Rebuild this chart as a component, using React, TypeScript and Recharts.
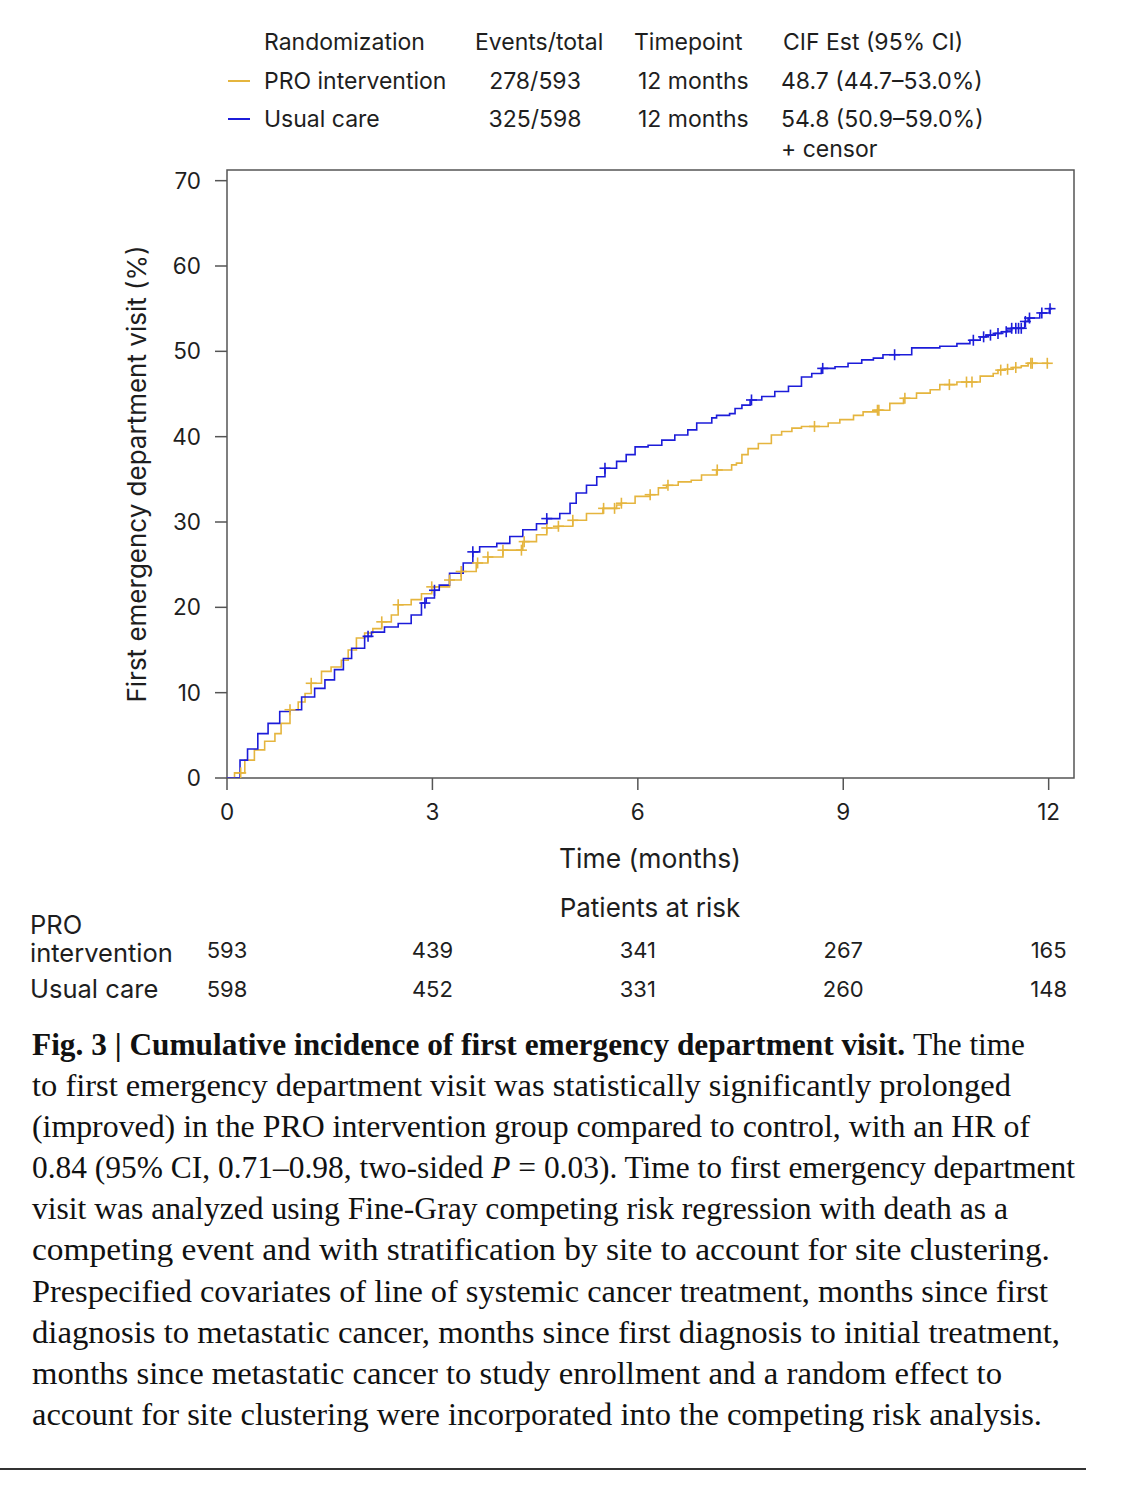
import React from "react";
import { ComposedChart, Line, Scatter, XAxis, YAxis, ReferenceArea } from "recharts";

const xTicks = [0, 3, 6, 9, 12];
const yTicks = [0, 10, 20, 30, 40, 50, 60, 70];
const X_MAX = 12.37;
const Y_MAX = 71.25;

// PRO intervention cumulative incidence (months, %)
const proTimes = [0, 0.11, 0.26, 0.40, 0.55, 0.70, 0.79, 0.92, 1.04, 1.14, 1.23, 1.38, 1.52, 1.67, 1.77, 1.89, 2.01, 2.13, 2.26, 2.40, 2.50, 2.69, 2.84, 2.99, 3.25, 3.42, 3.64, 3.81, 4.03, 4.32, 4.52, 4.67, 4.84, 5.05, 5.25, 5.49, 5.69, 5.76, 5.96, 6.18, 6.30, 6.42, 6.59, 6.78, 6.93, 7.15, 7.37, 7.44, 7.52, 7.61, 7.76, 7.95, 8.10, 8.25, 8.39, 8.78, 8.95, 9.15, 9.29, 9.49, 9.68, 9.88, 10.07, 10.27, 10.41, 10.66, 11.00, 11.19, 11.26, 11.36, 11.48, 11.60, 11.70, 12.00];
const proCif = [0, 0.6, 2.1, 3.3, 4.3, 5.2, 6.4, 8.0, 8.9, 9.9, 11.1, 12.5, 13.0, 13.8, 15.0, 16.4, 17.0, 17.5, 18.3, 19.1, 20.3, 20.9, 21.6, 22.4, 23.2, 24.2, 25.2, 25.9, 26.7, 27.7, 28.5, 29.3, 29.5, 30.2, 31.0, 31.6, 32.0, 32.2, 33.0, 33.2, 34.0, 34.3, 34.7, 34.9, 35.5, 36.1, 36.7, 36.9, 37.9, 38.6, 39.2, 40.2, 40.6, 41.0, 41.2, 41.6, 42.0, 42.5, 42.9, 43.1, 43.9, 44.5, 45.1, 45.5, 46.1, 46.4, 47.1, 47.4, 47.8, 47.9, 48.1, 48.3, 48.6, 48.6];
const proCensor = [0.2, 0.92, 1.23, 2.26, 2.50, 2.99, 3.25, 3.42, 3.66, 3.81, 4.03, 4.30, 4.34, 4.67, 4.84, 5.05, 5.50, 5.66, 5.76, 6.18, 6.44, 7.16, 8.58, 9.50, 9.52, 9.90, 10.55, 10.80, 10.88, 11.30, 11.40, 11.52, 11.74, 11.76, 11.98];

// Usual care cumulative incidence (months, %)
const usualTimes = [0, 0.19, 0.30, 0.45, 0.60, 0.77, 0.92, 1.09, 1.28, 1.43, 1.57, 1.70, 1.82, 2.01, 2.11, 2.30, 2.50, 2.69, 2.84, 2.91, 3.03, 3.10, 3.25, 3.45, 3.59, 3.69, 3.94, 4.13, 4.32, 4.52, 4.67, 4.86, 5.01, 5.10, 5.25, 5.40, 5.52, 5.69, 5.83, 5.96, 6.15, 6.35, 6.54, 6.73, 6.86, 7.08, 7.15, 7.34, 7.42, 7.52, 7.64, 7.81, 8.00, 8.20, 8.39, 8.54, 8.68, 8.88, 9.07, 9.27, 9.44, 9.58, 10.00, 10.41, 10.66, 10.85, 11.00, 11.09, 11.22, 11.31, 11.39, 11.46, 11.65, 11.70, 11.87, 12.01, 12.05];
const usualCif = [0, 2.1, 3.4, 5.2, 6.4, 7.8, 8.0, 9.5, 10.5, 11.5, 12.7, 14.0, 15.2, 16.6, 17.1, 17.7, 18.1, 19.1, 20.5, 21.1, 22.0, 22.6, 24.0, 25.2, 26.5, 27.1, 27.5, 28.3, 29.1, 29.8, 30.4, 31.0, 32.2, 33.4, 34.3, 35.3, 36.3, 37.1, 37.9, 38.8, 39.0, 39.6, 40.2, 40.8, 41.6, 42.2, 42.5, 42.7, 43.3, 43.7, 44.3, 44.7, 45.3, 45.9, 47.0, 47.4, 48.0, 48.2, 48.6, 49.0, 49.2, 49.6, 50.4, 50.6, 50.9, 51.3, 51.7, 51.9, 52.1, 52.3, 52.5, 52.7, 53.5, 53.9, 54.5, 55.0, 55.0];
const usualCensor = [2.06, 2.89, 3.03, 3.59, 4.67, 5.52, 7.66, 8.70, 9.75, 10.90, 11.05, 11.15, 11.26, 11.38, 11.46, 11.52, 11.56, 11.60, 11.66, 11.72, 11.90, 12.02];

// patients at risk
const riskTimes = [0, 3, 6, 9, 12];
const proAtRisk = [593, 439, 341, 267, 165];
const usualAtRisk = [598, 452, 331, 260, 148];

const legendRows = [
  { name: "PRO intervention", events: "278/593", time: "12 months", cif: "48.7 (44.7–53.0%)" },
  { name: "Usual care", events: "325/598", time: "12 months", cif: "54.8 (50.9–59.0%)" },
];

const captionLines = [
  "to first emergency department visit was statistically significantly prolonged",
  "(improved) in the PRO intervention group compared to control, with an HR of",
  "0.84 (95% CI, 0.71–0.98, two-sided |P| = 0.03). Time to first emergency department",
  "visit was analyzed using Fine-Gray competing risk regression with death as a",
  "competing event and with stratification by site to account for site clustering.",
  "Prespecified covariates of line of systemic cancer treatment, months since first",
  "diagnosis to metastatic cancer, months since first diagnosis to initial treatment,",
  "months since metastatic cancer to study enrollment and a random effect to",
  "account for site clustering were incorporated into the competing risk analysis.",
];
const captionEnds = [1011, 1030, 1075, 1008, 1050, 1048, 1060, 1002, 1042];

const PRO_COLOR = "#E5B53E";
const USUAL_COLOR = "#1C1CD9";
const TEXT = "#1e1e1e";
const SANS = "Inter, 'Noto Sans', sans-serif";

const PLOT_LEFT = 227;
const PLOT_RIGHT = 1074;
const PLOT_TOP = 170;
const PLOT_BOTTOM = 778;
const CHART_H = 1000;

const toSeries = (times: number[], vals: number[]) => times.map((t, i) => ({ t, v: vals[i] }));

const stepValue = (times: number[], vals: number[], t: number) => {
  let v = vals[0];
  for (let i = 0; i < times.length; i++) {
    if (times[i] <= t) v = vals[i];
  }
  return v;
};

const censorPoints = (censor: number[], times: number[], vals: number[]) =>
  censor.map((t) => ({ t, v: stepValue(times, vals, t) }));

const proData = toSeries(proTimes, proCif);
const usualData = toSeries(usualTimes, usualCif);
const proCensorData = censorPoints(proCensor, proTimes, proCif);
const usualCensorData = censorPoints(usualCensor, usualTimes, usualCif);

const xPx = (t: number) => PLOT_LEFT + (t / X_MAX) * (PLOT_RIGHT - PLOT_LEFT);

const cross = (color: string) => (props: any) => {
  const { cx, cy } = props;
  if (cx == null || cy == null) return <g />;
  return (
    <g>
      <line x1={cx - 5.5} x2={cx + 5.5} y1={cy} y2={cy} stroke={color} strokeWidth={1.6} />
      <line x1={cx} x2={cx} y1={cy - 5.5} y2={cy + 5.5} stroke={color} strokeWidth={1.6} />
    </g>
  );
};

const Txt = ({ x, y, children, size = 23, anchor = "left" }: any) => (
  <div
    style={{
      position: "absolute",
      left: x,
      top: y,
      transform: anchor === "center" ? "translate(-50%, -50%)" : "translateY(-50%)",
      fontSize: size,
      lineHeight: 1,
      whiteSpace: "nowrap",
      color: TEXT,
      fontFamily: SANS,
    }}
  >
    {children}
  </div>
);

export default function App() {
  const tickStyle = { fontSize: 22.5, fill: TEXT, fontFamily: SANS };
  return (
    <div style={{ position: "absolute", left: 0, top: 0, width: 1124, height: 1485, background: "#fff", overflow: "hidden" }}>
      {/* legend table */}
      <Txt x={264} y={42}>Randomization</Txt>
      <Txt x={475} y={42}>Events/total</Txt>
      <Txt x={634} y={42}>Timepoint</Txt>
      <Txt x={783} y={42}>CIF Est (95% CI)</Txt>
      {legendRows.map((r, i) => {
        const y = 81 + i * 38;
        return (
          <React.Fragment key={r.name}>
            <div style={{ position: "absolute", left: 228, top: y - 1, width: 22, height: 2, background: i === 0 ? PRO_COLOR : USUAL_COLOR }} />
            <Txt x={264} y={y}>{r.name}</Txt>
            <Txt x={535} y={y} anchor="center">{r.events}</Txt>
            <Txt x={638} y={y}>{r.time}</Txt>
            <Txt x={781} y={y}>{r.cif}</Txt>
          </React.Fragment>
        );
      })}
      <Txt x={781} y={149}>+ censor</Txt>

      <div style={{ position: "absolute", left: 0, top: 0 }}>
        <ComposedChart
          width={1124}
          height={CHART_H}
          margin={{ top: PLOT_TOP, right: 1124 - PLOT_RIGHT, bottom: CHART_H - PLOT_BOTTOM - 60, left: PLOT_LEFT - 100 }}
        >
          <XAxis
            type="number"
            dataKey="t"
            domain={[0, X_MAX]}
            ticks={xTicks}
            allowDataOverflow
            axisLine={false}
            tickLine={{ stroke: "#555", strokeWidth: 1.5 }}
            tickSize={12}
            tickMargin={14}
            tick={tickStyle}
            height={60}
            interval={0}
          />
          <YAxis
            type="number"
            dataKey="v"
            domain={[0, Y_MAX]}
            ticks={yTicks}
            allowDataOverflow
            axisLine={false}
            tickLine={{ stroke: "#555", strokeWidth: 1.5 }}
            tickSize={12}
            tickMargin={14}
            tick={tickStyle}
            width={100}
            interval={0}
          />
          <ReferenceArea x1={0} x2={X_MAX} y1={0} y2={Y_MAX} fill="none" fillOpacity={0} stroke="#555" strokeWidth={1.5} />
          <Line
            data={proData}
            dataKey="v"
            type="stepAfter"
            stroke={PRO_COLOR}
            strokeWidth={1.6}
            dot={false}
            isAnimationActive={false}
          />
          <Line
            data={usualData}
            dataKey="v"
            type="stepAfter"
            stroke={USUAL_COLOR}
            strokeWidth={1.6}
            dot={false}
            isAnimationActive={false}
          />
          <Scatter data={proCensorData} dataKey="v" shape={cross(PRO_COLOR)} isAnimationActive={false} />
          <Scatter data={usualCensorData} dataKey="v" shape={cross(USUAL_COLOR)} isAnimationActive={false} />
        </ComposedChart>
      </div>

      {/* y axis title */}
      <div
        style={{
          position: "absolute",
          left: 137,
          top: 474,
          transform: "translate(-50%, -50%) rotate(-90deg)",
          fontSize: 26,
          whiteSpace: "nowrap",
          color: TEXT,
          fontFamily: SANS,
          lineHeight: 1,
        }}
      >
        First emergency department visit (%)
      </div>

      <Txt x={650} y={858} size={26.5} anchor="center">Time (months)</Txt>
      <Txt x={650} y={908} size={26} anchor="center">Patients at risk</Txt>

      {/* risk table */}
      <Txt x={30} y={925} size={25.5}>PRO</Txt>
      <Txt x={30} y={953} size={25.5}>intervention</Txt>
      <Txt x={30} y={989} size={25.5}>Usual care</Txt>
      {riskTimes.map((t, i) => (
        <React.Fragment key={t}>
          <Txt x={xPx(t)} y={950} size={22} anchor="center">{proAtRisk[i]}</Txt>
          <Txt x={xPx(t)} y={989} size={22} anchor="center">{usualAtRisk[i]}</Txt>
        </React.Fragment>
      ))}

      {/* caption */}
      <svg width={1124} height={485} style={{ position: "absolute", left: 0, top: 1000 }}>
        <g fontFamily="'Liberation Serif', serif" fontSize={31} fill="#111">
          <text x={32} y={55} fontWeight="bold" textLength={873} lengthAdjust="spacingAndGlyphs">
            Fig. 3 | Cumulative incidence of first emergency department visit.
          </text>
          <text x={913} y={55} textLength={112} lengthAdjust="spacingAndGlyphs">The time</text>
          {captionLines.map((line, i) => {
            const parts = line.split("|");
            return (
              <text key={i} x={32} y={96 + i * 41.1} textLength={captionEnds[i] - 32} lengthAdjust="spacingAndGlyphs">
                {parts.length === 3 ? (
                  <>
                    {parts[0]}
                    <tspan fontStyle="italic">{parts[1]}</tspan>
                    {parts[2]}
                  </>
                ) : (
                  line
                )}
              </text>
            );
          })}
        </g>
        <line x1={0} x2={1086} y1={469} y2={469} stroke="#333" strokeWidth={2} />
      </svg>
    </div>
  );
}
